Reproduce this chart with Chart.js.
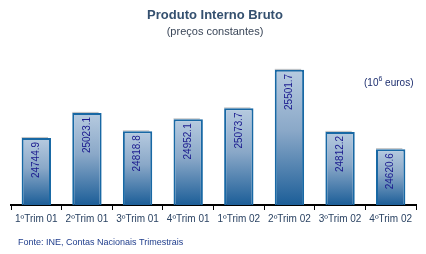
<!DOCTYPE html>
<html>
<head>
<meta charset="utf-8">
<script src="https://cdn.jsdelivr.net/npm/chart.js@4"></script>
<style>
html,body{margin:0;padding:0;background:#fff;}
#wrap{width:426px;height:254px;}
</style>
</head>
<body>
<div id="wrap"><canvas id="c" width="426" height="254"></canvas></div>
<script>
const categories = ["1ºTrim 01","2ºTrim 01","3ºTrim 01","4ºTrim 01","1ºTrim 02","2ºTrim 02","3ºTrim 02","4ºTrim 02"];
const gdpValues = [24744.9, 25023.1, 24818.8, 24952.1, 25073.7, 25501.7, 24812.2, 24620.6];
const valueLabels = ["24744.9","25023.1","24818.8","24952.1","25073.7","25501.7","24812.2","24620.6"];
const titleText = "Produto Interno Bruto";
const subtitleText = "(preços constantes)";
const sourceText = "Fonte: INE, Contas Nacionais Trimestrais";

function barGradient(ctx){
  const chart = ctx.chart;
  const area = chart.chartArea;
  if(!area || ctx.parsed === undefined) return '#7a9cc0';
  const yTop = chart.scales.y.getPixelForValue(ctx.parsed.y);
  const g = chart.ctx.createLinearGradient(0, yTop, 0, area.bottom);
  g.addColorStop(0, '#b7cbe0');
  g.addColorStop(0.45, '#8aa8c8');
  g.addColorStop(1, '#1c5e98');
  return g;
}

const decor = {
  id: 'decor',
  beforeDatasetsDraw(chart){
    const c = chart.ctx;
    const meta = chart.getDatasetMeta(0);
    c.save();
    c.fillStyle = '#c2c2c2';
    meta.data.forEach(b => {
      const left = b.x - b.width/2;
      c.fillRect(left, b.y - 1, b.width - 3, 1);
    });
    c.restore();
  },
  afterDatasetsDraw(chart){
    const c = chart.ctx;
    const meta = chart.getDatasetMeta(0);
    c.save();
    c.fillStyle = '#1a1a8e';
    c.font = '10px "Liberation Sans", Arial, sans-serif';
    meta.data.forEach((b, i) => {
      c.save();
      c.translate(b.x, b.y + 4);
      c.rotate(-Math.PI/2);
      c.textAlign = 'right';
      c.textBaseline = 'middle';
      c.fillText(valueLabels[i], 0, 0);
      c.restore();
    });
    c.restore();
  },
  afterDraw(chart){
    const c = chart.ctx;
    c.save();
    c.textAlign = 'center';
    c.textBaseline = 'middle';
    c.fillStyle = '#34506f';
    c.font = 'bold 13px "Liberation Sans", Arial, sans-serif';
    c.fillText(titleText, 215, 15);
    c.fillStyle = '#3a4658';
    c.font = '11px "Liberation Sans", Arial, sans-serif';
    c.fillText(subtitleText, 215, 32);
    // unit label
    c.textAlign = 'left';
    c.fillStyle = '#1c2d6e';
    c.font = '10px "Liberation Sans", Arial, sans-serif';
    let x = 364;
    c.fillText('(10', x, 83); x += c.measureText('(10').width;
    c.font = '7px "Liberation Sans", Arial, sans-serif';
    c.fillText('6', x, 79); x += c.measureText('6').width;
    c.font = '10px "Liberation Sans", Arial, sans-serif';
    c.fillText(' euros)', x, 83);
    // source
    c.fillStyle = '#1f3d8c';
    c.font = '9px "Liberation Sans", Arial, sans-serif';
    c.fillText(sourceText, 18, 243);
    c.restore();
  }
};

new Chart(document.getElementById('c'), {
  type: 'bar',
  data: {
    labels: categories,
    datasets: [{
      data: gdpValues,
      backgroundColor: barGradient,
      borderColor: '#1868a4',
      borderWidth: 2,
      borderSkipped: false,
      barPercentage: 0.58,
      categoryPercentage: 1.0
    }]
  },
  options: {
    responsive: false,
    animation: false,
    devicePixelRatio: 1,
    layout: { padding: { left: 11, right: 10, top: 25, bottom: 29 } },
    plugins: { legend: { display: false }, tooltip: { enabled: false }, title: { display: false } },
    scales: {
      x: {
        offset: true,
        grid: { display: true, drawOnChartArea: false, drawTicks: true, tickLength: 5, color: '#000', lineWidth: 1, offset: true },
        border: { display: true, color: '#000', width: 2 },
        ticks: { color: '#2b4363', padding: 3, font: { family: '"Liberation Sans", Arial, sans-serif', size: 10 }, maxRotation: 0, autoSkip: false },
        afterFit(scale){ scale.height = 20; }
      },
      y: {
        display: false,
        min: 24000,
        max: 26000
      }
    }
  },
  plugins: [decor]
});
</script>
</body>
</html>
